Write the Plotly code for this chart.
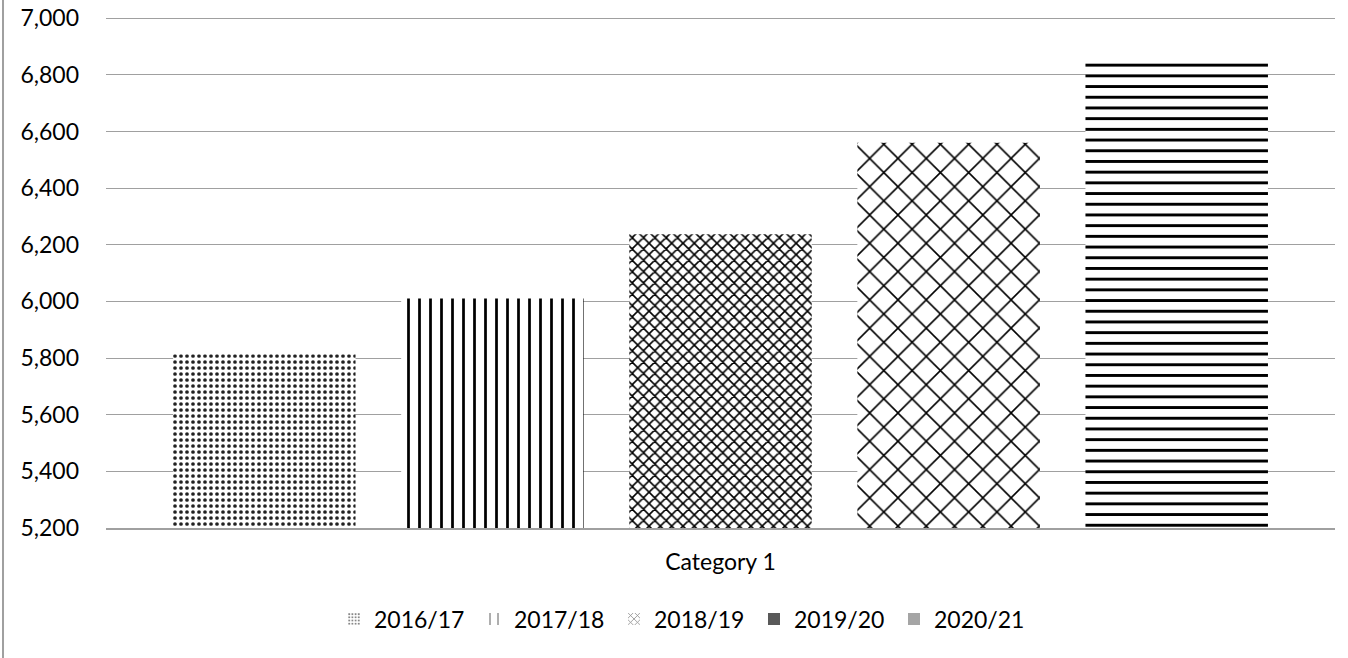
import plotly.graph_objects as go

# ---- data ----
categories = ["Category 1"]
series_names = ["2016/17", "2017/18", "2018/19", "2019/20", "2020/21"]
series_values = [[5813], [6010], [6237], [6560], [6857]]
y_ticks = [5200, 5400, 5600, 5800, 6000, 6200, 6400, 6600, 6800, 7000]

# ---- styles ----
bar_patterns = [
    dict(shape=".", size=6, solidity=0.3, fgcolor="#222222"),
    dict(shape="|", size=11, solidity=0.25, fgcolor="black"),
    dict(shape="x", size=8, solidity=0.36, fgcolor="black"),
    dict(shape="x", size=20, solidity=0.15, fgcolor="black"),
    dict(shape="-", size=10.7, solidity=0.27, fgcolor="black"),
]
legend_styles = [
    dict(color="white", pattern=dict(shape=".", size=4, solidity=0.35, fgcolor="#888888", fillmode="replace", bgcolor="white")),
    dict(color="white", pattern=dict(shape="|", size=24, solidity=0.1, fgcolor="#333333", fillmode="replace", bgcolor="white")),
    dict(color="white", pattern=dict(shape="x", size=6, solidity=0.3, fgcolor="#888888", fillmode="replace", bgcolor="white")),
    dict(color="#595959"),
    dict(color="#a5a5a5"),
]

FONT = "Lato, 'Open Sans', sans-serif"

fig = go.Figure()
for name, vals, pat in zip(series_names, series_values, bar_patterns):
    fig.add_trace(go.Bar(
        x=categories, y=vals, name=name, showlegend=False,
        marker=dict(color="white", line=dict(width=0),
                    pattern=dict(bgcolor="white", fillmode="replace", **pat)),
        hoverinfo="name+y",
    ))

# legend-only entries (placed on a hidden overlay axis so they take no bar slots)
for name, st in zip(series_names, legend_styles):
    fig.add_trace(go.Bar(
        x=[None], y=[None], name=name, xaxis="x2",
        marker=dict(line=dict(width=0), **st),
    ))

fig.update_layout(
    width=1348, height=658,
    margin=dict(l=106, r=13, t=17, b=130, autoexpand=False),
    paper_bgcolor="white", plot_bgcolor="white",
    font=dict(family=FONT, size=23, color="#000000"),
    barmode="group", bargap=0.072, bargroupgap=0.2,
    xaxis=dict(
        type="category", showgrid=False, zeroline=False, automargin=False,
        showline=True, linecolor="#a0a0a0", linewidth=1.6,
        ticks="", ticklabelstandoff=13,
        tickfont=dict(family=FONT, size=23, color="#000000"),
    ),
    xaxis2=dict(overlaying="x", visible=False, type="category"),
    yaxis=dict(
        range=[5200, 7004], tickvals=y_ticks, tickformat=",",
        showgrid=True, gridcolor="#a0a0a0", gridwidth=1.3, automargin=False,
        zeroline=False, showline=False, ticks="",
        ticklabelstandoff=26,
        tickfont=dict(family=FONT, size=23, color="#000000"),
    ),
    legend=dict(
        orientation="h", x=0.4703, xanchor="center", y=-0.178, yanchor="middle",
        font=dict(family=FONT, size=23, color="#000000"),
        entrywidth=95, entrywidthmode="pixels",
        bgcolor="rgba(0,0,0,0)", traceorder="normal",
    ),
    shapes=[dict(type="line", xref="paper", yref="paper",
                 x0=-0.0838, x1=-0.0838, y0=-0.4, y1=1.2,
                 line=dict(color="#a0a0a0", width=2))],
    showlegend=True,
)

fig.write_html(
    "out.html",
    config={"displayModeBar": False},
    post_script="document.body.style.margin='0';document.body.style.overflow='hidden';",
)
